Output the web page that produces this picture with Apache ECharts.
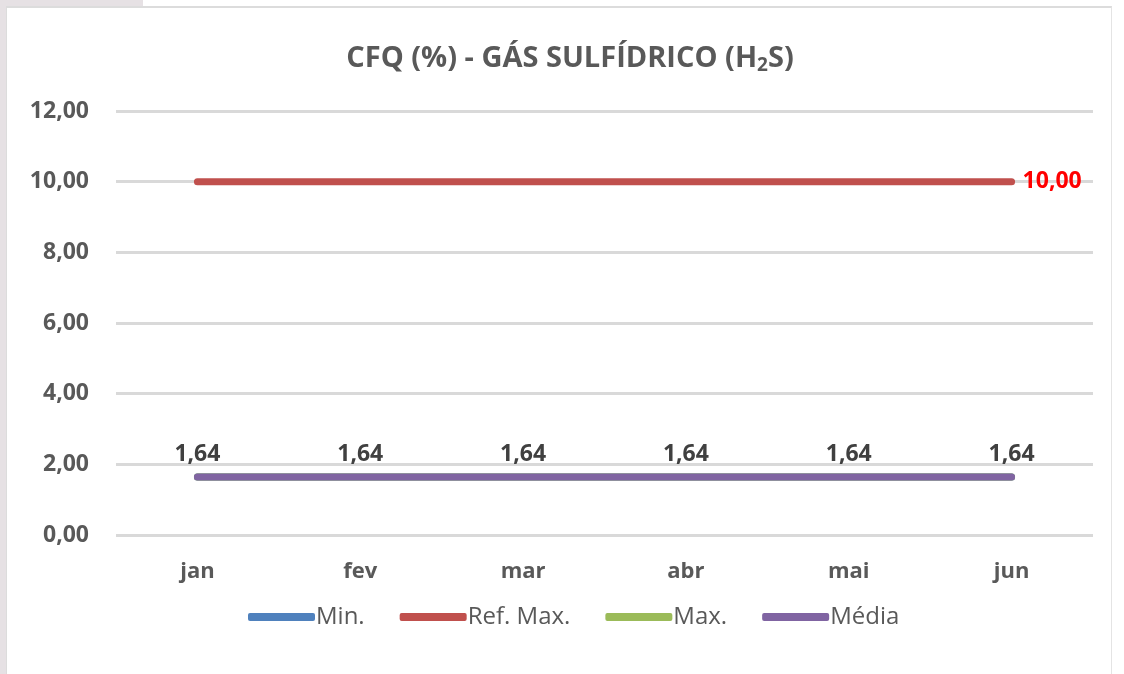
<!DOCTYPE html>
<html><head><meta charset="utf-8">
<script src="https://cdn.jsdelivr.net/npm/echarts@6/dist/echarts.min.js"></script>
<style>
html,body{margin:0;padding:0;background:#fff;}
#bg{position:absolute;left:0;top:0;width:1124px;height:674px;background:#fff;}
#corner{position:absolute;left:0;top:0;width:143px;height:7px;background:#e6e1e4;}
#lstrip{position:absolute;left:0;top:0;width:6px;height:674px;background:#e6e1e4;}
#frame{position:absolute;left:6px;top:6px;width:1106px;height:668px;border-top:2px solid #dcdcdc;border-left:1px solid #dcdcdc;border-right:1px solid #e4e4e4;box-sizing:border-box;}
#chart{position:absolute;left:0;top:0;width:1124px;height:674px;}
</style></head>
<body>
<div id="bg"></div><div id="corner"></div><div id="lstrip"></div><div id="frame"></div>
<div id="chart"></div>
<script>
const categories = ['jan','fev','mar','abr','mai','jun'];
const minVals = [1.64,1.64,1.64,1.64,1.64,1.64];
const refMaxVals = [10,10,10,10,10,10];
const maxVals = [1.64,1.64,1.64,1.64,1.64,1.64];
const mediaVals = [1.64,1.64,1.64,1.64,1.64,1.64];
const yTicks = {min:0, max:12, interval:2};

const fmt = v => Number(v).toFixed(2).replace('.', ',');
const FONT = '"Open Sans", "Noto Sans", sans-serif';
const chart = echarts.init(document.getElementById('chart'), null, {renderer:'canvas'});
const lineSeries = (name, data, color, extra) => Object.assign({
  name, type:'line', data, symbol:'circle', symbolSize:0, showSymbol:true, smooth:false,
  lineStyle:{color, width:7, cap:'round', join:'round'},
  itemStyle:{color},
  emphasis:{disabled:true},
  labelLayout:{hideOverlap:false},
  animation:false
}, extra||{});

chart.setOption({
  backgroundColor:'transparent',
  animation:false,
  title:{
    text:'{t|CFQ (%) - GÁS SULFÍDRICO (H}{s|2}{t|S)}',
    left:565, textAlign:'center', top:37,
    textStyle:{rich:{
      t:{fontFamily:FONT, fontWeight:'bold', fontSize:29, color:'#595959'},
      s:{fontFamily:FONT, fontWeight:'bold', fontSize:19, color:'#595959', padding:[14,0,0,0]}
    }}
  },
  grid:{left:116, right:31, top:111, bottom:139, containLabel:false},
  xAxis:{
    type:'category', data:categories, boundaryGap:true,
    axisLine:{show:false}, axisTick:{show:false},
    axisLabel:{fontFamily:FONT, fontWeight:'bold', fontSize:22, color:'#595959', margin:26}
  },
  yAxis:{
    type:'value', min:yTicks.min, max:yTicks.max, interval:yTicks.interval,
    axisLine:{show:false}, axisTick:{show:false},
    splitLine:{lineStyle:{color:'#d9d9d9', width:3}},
    axisLabel:{fontFamily:FONT, fontWeight:'bold', fontSize:23, color:'#595959', margin:27, formatter:fmt}
  },
  legend:{
    top:600, left:243, itemGap:35, itemWidth:67, itemHeight:8,
    icon:'roundRect',
    textStyle:{fontFamily:FONT, fontSize:24, color:'#595959', padding:[0,0,0,-4]},
    data:['Min.','Ref. Max.','Max.','Média']
  },
  series:[
    lineSeries('Min.', minVals, '#4f81bd'),
    lineSeries('Ref. Max.', refMaxVals, '#c0504d', {
      label:{show:true, position:'right', distance:11, fontFamily:FONT, fontWeight:'bold', fontSize:23, color:'#ff0000',
        formatter:p => p.dataIndex === refMaxVals.length-1 ? fmt(p.value) : ''}
    }),
    lineSeries('Max.', maxVals, '#9bbb59'),
    lineSeries('Média', mediaVals, '#8064a2', {
      label:{show:true, position:'top', distance:11, fontFamily:FONT, fontWeight:'bold', fontSize:23, color:'#404040',
        formatter:p => fmt(p.value)}
    })
  ]
});
</script>
</body></html>
